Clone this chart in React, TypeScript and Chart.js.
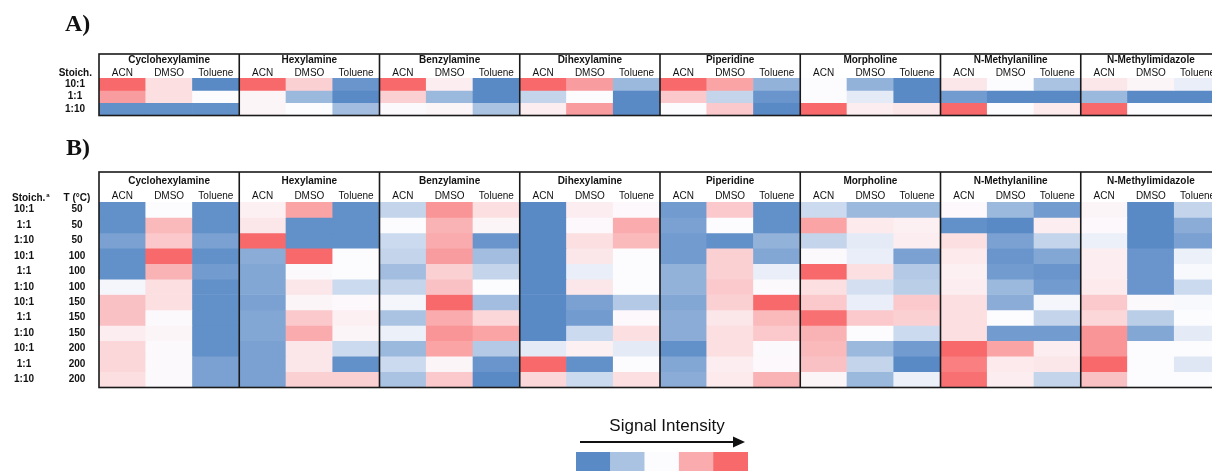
import { useEffect, useRef } from "react";
import { Chart, registerables } from "chart.js";

Chart.register(...registerables);

// ---------- categories ----------
const AMINES = [
  "Cyclohexylamine",
  "Hexylamine",
  "Benzylamine",
  "Dihexylamine",
  "Piperidine",
  "Morpholine",
  "N-Methylaniline",
  "N-Methylimidazole",
];
const SOLVENTS = ["ACN", "DMSO", "Toluene"];
const A_STOICH = ["10:1", "1:1", "1:10"];
const B_STOICH = ["10:1", "1:1", "1:10", "10:1", "1:1", "1:10", "10:1", "1:1", "1:10", "10:1", "1:1", "1:10"];
const B_TEMP = ["50", "50", "50", "100", "100", "100", "150", "150", "150", "200", "200", "200"];

// ---------- values (relative signal, -1 = low/blue, 0 = mid/white, 1 = high/red) ----------
// Panel A: per amine, [ACN, DMSO, Toluene], each listing rows 10:1, 1:1, 1:10
const A_CYCLOHEXYLAMINE = [[1.0, 0.65, -0.95], [0.2, 0.2, -0.95], [-1.0, 0.0, -0.95]];
const A_HEXYLAMINE = [[1.0, 0.05, 0.05], [0.3, -0.6, 0.0], [-0.9, -1.0, -0.55]];
const A_BENZYLAMINE = [[1.0, 0.3, 0.02], [0.1, -0.6, 0.05], [-1.0, -1.0, -0.5]];
const A_DIHEXYLAMINE = [[1.0, -0.35, 0.1], [0.65, 0.0, 0.65], [-0.6, -1.0, -1.0]];
const A_PIPERIDINE = [[1.0, 0.35, 0.0], [0.6, -0.35, 0.35], [-0.65, -0.9, -1.0]];
const A_MORPHOLINE = [[0.0, 0.0, 1.0], [-0.65, -0.15, 0.1], [-1.0, -1.0, 0.15]];
const A_NMETHYLANILINE = [[0.15, -0.85, 1.0], [0.0, -1.0, 0.0], [-0.5, -1.0, 0.12]];
const A_NMETHYLIMIDAZOLE = [[0.15, -0.6, 1.0], [0.05, -1.0, 0.0], [-0.12, -1.0, 0.0]];

// Panel B: per amine, [ACN, DMSO, Toluene], each listing the 12 condition rows
const B_CYCLOHEXYLAMINE = [
  [-0.95, -0.95, -0.8, -0.95, -0.95, -0.05, 0.4, 0.4, 0.1, 0.25, 0.25, 0.2],
  [0.0, 0.45, 0.35, 1.0, 0.5, 0.2, 0.2, 0.02, 0.05, 0.02, 0.02, 0.02],
  [-0.95, -0.95, -0.8, -0.95, -0.85, -0.95, -0.95, -0.95, -0.95, -0.95, -0.8, -0.8],
];
const B_HEXYLAMINE = [
  [0.08, 0.15, 1.0, -0.7, -0.75, -0.75, -0.8, -0.75, -0.75, -0.8, -0.8, -0.8],
  [0.6, -0.95, -0.95, 1.0, 0.02, 0.15, 0.05, 0.35, 0.55, 0.15, 0.15, 0.3],
  [-0.95, -0.95, -0.95, 0.0, 0.0, -0.3, 0.03, 0.08, 0.05, -0.3, -0.95, 0.3],
];
const B_BENZYLAMINE = [
  [-0.35, 0.0, -0.3, -0.35, -0.55, -0.35, -0.05, -0.5, -0.1, -0.6, -0.3, -0.5],
  [0.7, 0.5, 0.55, 0.65, 0.3, 0.4, 1.0, 0.55, 0.7, 0.6, 0.05, 0.35],
  [0.2, 0.05, -0.9, -0.55, -0.35, 0.0, -0.55, 0.25, 0.6, -0.45, -0.9, -1.0],
];
const B_DIHEXYLAMINE = [
  [-1.0, -1.0, -1.0, -1.0, -1.0, -1.0, -1.0, -1.0, -1.0, -0.15, 1.0, 0.25],
  [0.1, 0.03, 0.2, 0.15, -0.12, 0.15, -0.8, -0.85, -0.3, 0.08, -0.95, -0.3],
  [0.03, 0.55, 0.45, 0.0, 0.0, 0.0, -0.45, 0.03, 0.2, -0.15, 0.0, 0.2],
];
const B_PIPERIDINE = [
  [-0.85, -0.8, -0.85, -0.85, -0.65, -0.65, -0.75, -0.7, -0.7, -0.95, -0.75, -0.7],
  [0.35, 0.0, -0.95, 0.3, 0.3, 0.35, 0.3, 0.15, 0.2, 0.2, 0.1, 0.12],
  [-0.95, -0.95, -0.65, -0.75, -0.12, 0.02, 1.0, 0.45, 0.35, 0.02, 0.03, 0.5],
];
const B_MORPHOLINE = [
  [-0.3, 0.6, -0.35, 0.02, 1.0, 0.2, 0.35, 0.95, 0.5, 0.45, 0.4, 0.05],
  [-0.6, 0.12, -0.15, -0.12, 0.2, -0.25, -0.12, 0.35, 0.0, -0.6, -0.35, -0.6],
  [-0.6, 0.08, 0.1, -0.8, -0.45, -0.4, 0.35, 0.3, -0.3, -0.85, -1.0, -0.1],
];
const B_NMETHYLANILINE = [
  [0.03, -0.95, 0.2, 0.12, 0.08, 0.1, 0.2, 0.2, 0.2, 1.0, 0.85, 0.95],
  [-0.6, -1.0, -0.8, -0.9, -0.85, -0.6, -0.7, 0.0, -0.85, 0.6, 0.12, 0.1],
  [-0.85, 0.1, -0.35, -0.75, -0.9, -0.85, -0.05, -0.35, -0.85, 0.1, 0.15, -0.35],
];
const B_NMETHYLIMIDAZOLE = [
  [0.05, 0.03, -0.1, 0.1, 0.1, 0.12, 0.35, 0.25, 0.7, 0.7, 1.0, 0.4],
  [-1.0, -1.0, -1.0, -0.9, -0.9, -0.9, 0.02, -0.4, -0.75, 0.0, 0.0, 0.0],
  [-0.35, -0.7, -0.8, -0.1, -0.03, -0.3, -0.03, 0.0, -0.15, 0.0, -0.18, 0.0],
];

const LEGEND_LEVELS = [-1, -0.5, 0, 0.55, 1];
const LEGEND_TITLE = "Signal Intensity";

const PANEL_A = [A_CYCLOHEXYLAMINE, A_HEXYLAMINE, A_BENZYLAMINE, A_DIHEXYLAMINE, A_PIPERIDINE, A_MORPHOLINE, A_NMETHYLANILINE, A_NMETHYLIMIDAZOLE];
const PANEL_B = [B_CYCLOHEXYLAMINE, B_HEXYLAMINE, B_BENZYLAMINE, B_DIHEXYLAMINE, B_PIPERIDINE, B_MORPHOLINE, B_NMETHYLANILINE, B_NMETHYLIMIDAZOLE];

// ---------- colour scale ----------
const BLUE = [90, 138, 198];
const WHITE = [252, 252, 255];
const RED = [248, 105, 107];
function colorFor(v: number): string {
  const t = Math.min(1, Math.abs(v));
  const end = v < 0 ? BLUE : RED;
  const c = WHITE.map((w, i) => Math.round(w + (end[i] - w) * t));
  return `rgb(${c[0]},${c[1]},${c[2]})`;
}

const FONT = '"Liberation Sans", Arial, sans-serif';
const SERIF = '"Liberation Serif", "Times New Roman", serif';
const W = 1240;
const H = 471;

function buildDatasets(panel: number[][][], nRows: number) {
  const labels: string[] = [];
  AMINES.forEach((a) => SOLVENTS.forEach((s) => labels.push(a + " " + s)));
  const datasets = [];
  for (let r = 0; r < nRows; r++) {
    const colors: string[] = [];
    const data: [number, number][] = [];
    panel.forEach((group) =>
      group.forEach((col) => {
        colors.push(colorFor(col[r]));
        data.push([r, r + 1]);
      })
    );
    datasets.push({
      data,
      backgroundColor: colors,
      borderWidth: 0,
      grouped: false,
      barPercentage: 1,
      categoryPercentage: 1,
    });
  }
  return { labels, datasets };
}

function baseOptions(nRows: number, padding: any) {
  return {
    responsive: false,
    animation: false as const,
    devicePixelRatio: 1,
    layout: { padding },
    plugins: { legend: { display: false }, tooltip: { enabled: false } },
    scales: {
      x: { type: "category" as const, display: false },
      y: { type: "linear" as const, min: 0, max: nRows, reverse: true, display: false },
    },
  };
}

function drawBoxes(ctx: CanvasRenderingContext2D, area: any, top: number) {
  const gw = (area.right - area.left) / AMINES.length;
  ctx.save();
  ctx.strokeStyle = "#1a1a1a";
  ctx.lineWidth = 1.6;
  ctx.strokeRect(area.left, top, area.right - area.left, area.bottom - top + 0.5);
  for (let g = 1; g < AMINES.length; g++) {
    const x = area.left + g * gw;
    ctx.beginPath();
    ctx.moveTo(x, top);
    ctx.lineTo(x, area.bottom + 0.5);
    ctx.stroke();
  }
  ctx.restore();
}

function drawHeaders(chart: any, groupY: number, solvY: number) {
  const ctx = chart.ctx as CanvasRenderingContext2D;
  const area = chart.chartArea;
  const gw = (area.right - area.left) / AMINES.length;
  const xs = chart.scales.x;
  ctx.save();
  ctx.fillStyle = "#111";
  ctx.textAlign = "center";
  ctx.textBaseline = "middle";
  ctx.font = `bold 10px ${FONT}`;
  AMINES.forEach((a, g) => ctx.fillText(a, area.left + gw * (g + 0.5), groupY));
  ctx.font = `10px ${FONT}`;
  for (let i = 0; i < AMINES.length * SOLVENTS.length; i++) {
    ctx.fillText(SOLVENTS[i % 3], xs.getPixelForValue(i), solvY);
  }
  ctx.restore();
}

const panelAPlugin = {
  id: "panelA",
  afterDraw(chart: any) {
    const ctx = chart.ctx as CanvasRenderingContext2D;
    const ys = chart.scales.y;
    drawBoxes(ctx, chart.chartArea, 54);
    drawHeaders(chart, 60.5, 73);
    ctx.save();
    ctx.fillStyle = "#111";
    ctx.font = `bold 24px ${SERIF}`;
    ctx.textAlign = "left";
    ctx.textBaseline = "alphabetic";
    ctx.fillText("A)", 65, 31);
    ctx.font = `bold 10px ${FONT}`;
    ctx.textBaseline = "middle";
    ctx.textAlign = "right";
    ctx.fillText("Stoich.", 92, 73);
    ctx.textAlign = "center";
    A_STOICH.forEach((s, r) => ctx.fillText(s, 75, ys.getPixelForValue(r + 0.5)));
    ctx.restore();
  },
};

const panelBPlugin = {
  id: "panelB",
  afterDraw(chart: any) {
    const ctx = chart.ctx as CanvasRenderingContext2D;
    const ys = chart.scales.y;
    drawBoxes(ctx, chart.chartArea, 172);
    drawHeaders(chart, 181, 196);
    ctx.save();
    ctx.fillStyle = "#111";
    ctx.font = `bold 24px ${SERIF}`;
    ctx.textAlign = "left";
    ctx.textBaseline = "alphabetic";
    ctx.fillText("B)", 66, 155);
    ctx.font = `bold 10px ${FONT}`;
    ctx.textBaseline = "middle";
    ctx.textAlign = "left";
    ctx.fillText("Stoich.", 12, 198);
    const sw = ctx.measureText("Stoich.").width;
    ctx.font = `bold 6px ${FONT}`;
    ctx.fillText("a", 12 + sw + 1, 195);
    ctx.font = `bold 10px ${FONT}`;
    ctx.textAlign = "center";
    ctx.fillText("T (°C)", 77, 198);
    B_STOICH.forEach((s, r) => ctx.fillText(s, 24, ys.getPixelForValue(r + 0.5)));
    B_TEMP.forEach((t, r) => ctx.fillText(t, 77, ys.getPixelForValue(r + 0.5)));
    ctx.restore();
  },
};

const legendPlugin = {
  id: "legendDraw",
  afterDraw(chart: any) {
    const ctx = chart.ctx as CanvasRenderingContext2D;
    ctx.save();
    ctx.fillStyle = "#111";
    ctx.strokeStyle = "#111";
    ctx.font = `17px ${FONT}`;
    ctx.textAlign = "center";
    ctx.textBaseline = "middle";
    ctx.fillText(LEGEND_TITLE, 667, 426);
    ctx.lineWidth = 2;
    ctx.beginPath();
    ctx.moveTo(580, 442);
    ctx.lineTo(734, 442);
    ctx.stroke();
    ctx.beginPath();
    ctx.moveTo(745, 442);
    ctx.lineTo(733, 436.5);
    ctx.lineTo(733, 447.5);
    ctx.closePath();
    ctx.fill();
    ctx.restore();
  },
};

export default function App() {
  const refA = useRef<HTMLCanvasElement>(null);
  const refB = useRef<HTMLCanvasElement>(null);
  const refL = useRef<HTMLCanvasElement>(null);

  useEffect(() => {
    const a = buildDatasets(PANEL_A, A_STOICH.length);
    const b = buildDatasets(PANEL_B, B_STOICH.length);
    const chartA = new Chart(refA.current!, {
      type: "bar",
      data: a as any,
      options: baseOptions(A_STOICH.length, { left: 99, right: W - 1221, top: 78, bottom: H - 115 }) as any,
      plugins: [panelAPlugin],
    });
    const chartB = new Chart(refB.current!, {
      type: "bar",
      data: b as any,
      options: baseOptions(B_STOICH.length, { left: 99, right: W - 1221, top: 202, bottom: H - 387 }) as any,
      plugins: [panelBPlugin],
    });
    const chartL = new Chart(refL.current!, {
      type: "bar",
      data: {
        labels: LEGEND_LEVELS.map(String),
        datasets: [
          {
            data: LEGEND_LEVELS.map(() => [0, 1]) as any,
            backgroundColor: LEGEND_LEVELS.map(colorFor),
            borderWidth: 0,
            barPercentage: 1,
            categoryPercentage: 1,
          },
        ],
      },
      options: baseOptions(1, { left: 576, right: W - 748, top: 452, bottom: 0 }) as any,
      plugins: [legendPlugin],
    });
    return () => {
      chartA.destroy();
      chartB.destroy();
      chartL.destroy();
    };
  }, []);

  const cs: React.CSSProperties = { position: "absolute", left: 0, top: 0, width: W, height: H };
  return (
    <div style={{ position: "fixed", left: 0, top: 0, width: 1212, height: 471, overflow: "hidden", background: "#fff" }}>
      <canvas ref={refA} width={W} height={H} style={cs} />
      <canvas ref={refB} width={W} height={H} style={cs} />
      <canvas ref={refL} width={W} height={H} style={cs} />
    </div>
  );
}
